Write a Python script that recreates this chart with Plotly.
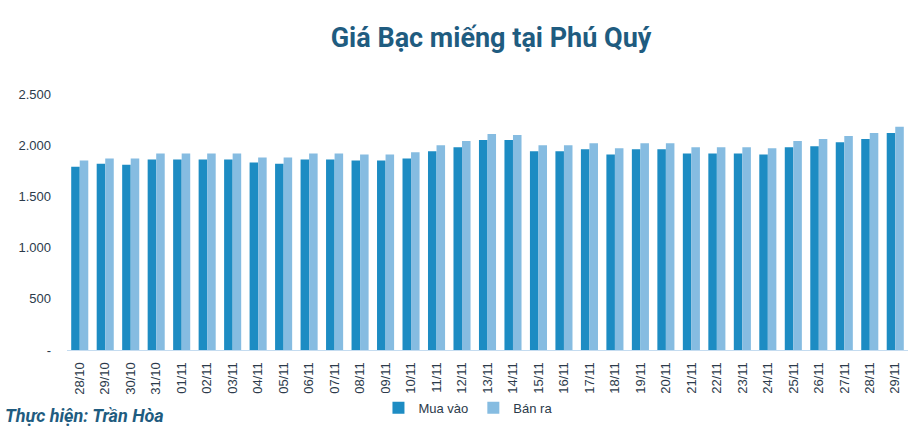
import plotly.graph_objects as go

dates = ["28/10", "29/10", "30/10", "31/10", "01/11", "02/11", "03/11", "04/11",
         "05/11", "06/11", "07/11", "08/11", "09/11", "10/11", "11/11", "12/11",
         "13/11", "14/11", "15/11", "16/11", "17/11", "18/11", "19/11", "20/11",
         "21/11", "22/11", "23/11", "24/11", "25/11", "26/11", "27/11", "28/11", "29/11"]

mua_vao = [1790, 1820, 1810, 1860, 1860, 1860, 1860, 1830, 1820, 1860, 1860, 1850,
           1850, 1870, 1940, 1980, 2050, 2050, 1940, 1940, 1960, 1910, 1960, 1960,
           1920, 1920, 1920, 1910, 1980, 1990, 2030, 2060, 2120]
ban_ra = [1850, 1870, 1870, 1920, 1920, 1920, 1920, 1880, 1880, 1920, 1920, 1910,
          1910, 1930, 2000, 2040, 2110, 2100, 2000, 2000, 2020, 1970, 2020, 2020,
          1980, 1980, 1980, 1970, 2040, 2060, 2090, 2120, 2180]

y_ticks = [0, 500, 1000, 1500, 2000, 2500]
y_labels = ["-", "500", "1.000", "1.500", "2.000", "2.500"]

fig = go.Figure()
fig.add_trace(go.Bar(x=dates, y=mua_vao, name="Mua vào",
                     marker=dict(color="#1d8cc3", line=dict(width=0))))
fig.add_trace(go.Bar(x=dates, y=ban_ra, name="Bán ra",
                     marker=dict(color="#86bce1", line=dict(width=0))))

fig.update_layout(
    width=923, height=432,
    margin=dict(l=67, r=15, t=94, b=82),
    paper_bgcolor="white", plot_bgcolor="white",
    barmode="group", bargap=0.33, bargroupgap=0,
    font=dict(family="Liberation Sans", color="#2b3a4a", size=13),
    title=dict(text="<b>Giá Bạc miếng tại Phú Quý</b>", xref="container", x=0.532,
               xanchor="center", yref="container", y=0.914, yanchor="middle",
               font=dict(family="Liberation Sans Narrow, Roboto", size=27, color="#1f5c80")),
    legend=dict(orientation="h", xref="container", x=0.507, xanchor="center",
                yref="container", y=0.056, yanchor="middle",
                font=dict(size=13, color="#2b3a4a"), itemwidth=30,
                traceorder="normal"),
    showlegend=True,
)
fig.update_xaxes(tickangle=-90, showline=True, linecolor="#c5dcf0", linewidth=1,
                 showgrid=False, ticks="", ticklabelstandoff=6, automargin=False)
fig.update_yaxes(range=[0, 2500], tickvals=y_ticks, ticktext=y_labels,
                 showgrid=False, zeroline=False, showline=False, ticks="",
                 ticklabelstandoff=15, automargin=False)

fig.add_annotation(text="<b><i>Thực hiện: Trần Hòa</i></b>", xref="paper", yref="paper",
                   x=-0.076, xanchor="left", y=-0.254, yanchor="middle", showarrow=False,
                   font=dict(family="Liberation Sans Narrow, Roboto", size=18, color="#1f5c80"))

# drop the default 8px page margin so the figure sits at the window's corner
fig.write_html("out.html", config={"displayModeBar": False},
               post_script="document.body.style.margin='0';")
